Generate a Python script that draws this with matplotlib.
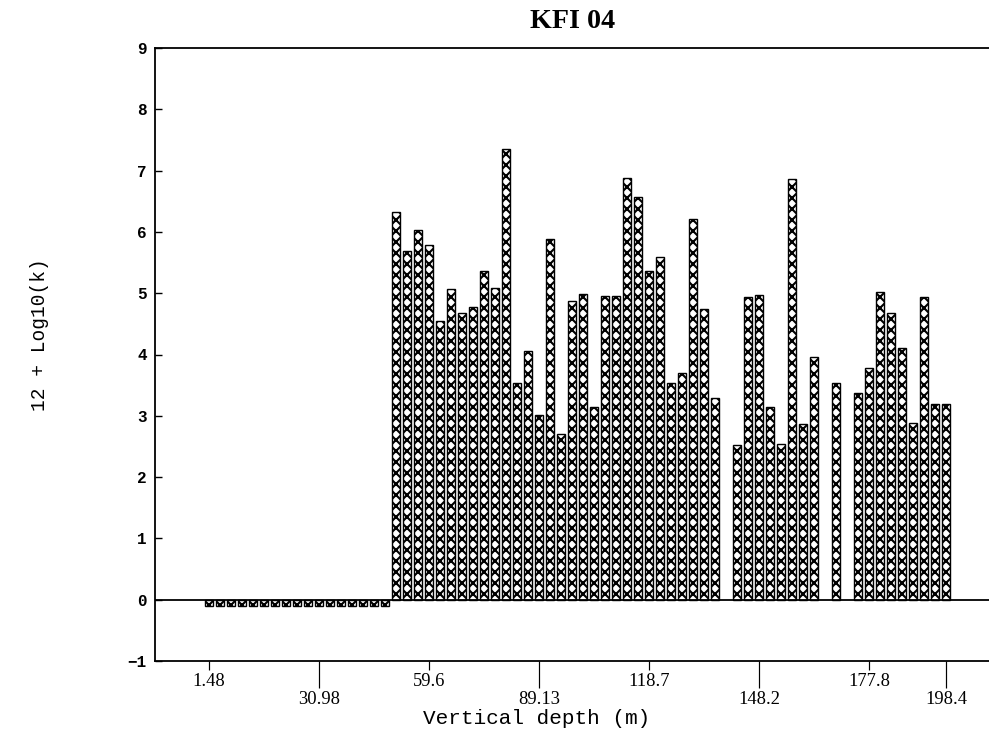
import numpy as np
import matplotlib
matplotlib.use("Agg")
import matplotlib.pyplot as plt

# Packer test intervals along the borehole (one slot per ~3 m section)
neg_slots = list(range(0, 17))
neg_values = [-0.1] * 17

pos_slots = list(range(17, 47)) + list(range(48, 56)) + [57] + list(range(59, 68))
pos_values = [6.33, 5.69, 6.03, 5.78, 4.54, 5.07, 4.68, 4.78, 5.36, 5.08,
              7.35, 3.54, 4.05, 3.01, 5.88, 2.70, 4.87, 4.98, 3.14, 4.95,
              4.95, 6.88, 6.57, 5.37, 5.59, 3.54, 3.70, 6.21, 4.75, 3.29,
              2.53, 4.93, 4.97, 3.14, 2.54, 6.86, 2.87, 3.96,
              3.54,
              3.37, 3.78, 5.02, 4.67, 4.11, 2.88, 4.93, 3.19, 3.19]

upper_tick_pos = [0, 20, 40, 60]
upper_tick_labels = ["1.48", "59.6", "118.7", "177.8"]
lower_tick_pos = [10, 30, 50, 67]
lower_tick_labels = ["30.98", "89.13", "148.2", "198.4"]

DPI = 66
W, H = 989, 737
plt.rcParams["hatch.linewidth"] = 2.1 * 72 / DPI
plt.rcParams["hatch.color"] = "black"


def pt(px):
    return px * 72.0 / DPI


fig = plt.figure(figsize=(W / DPI, H / DPI), dpi=DPI)
AX_L, AX_R = 155, 993
ax = fig.add_axes([AX_L / W, 1 - 661 / H, (AX_R - AX_L) / W, (661 - 48) / H])

# one slot = 11 px so the cross-hatch repeats identically in every bar
slot_px = 11.0
first_center_px = 209.0
x0 = -(first_center_px - AX_L) / slot_px
ax.set_xlim(x0, x0 + (AX_R - AX_L) / slot_px)
ax.set_ylim(-1, 9)

bar_kw = dict(width=0.74, color="white", edgecolor="black",
              linewidth=pt(1.4), hatch="xx", zorder=3)
ax.bar(neg_slots, neg_values, **bar_kw)
ax.bar(pos_slots, pos_values, **bar_kw)

ax.axhline(0, color="black", lw=pt(1.8), zorder=4)

for s in ax.spines.values():
    s.set_linewidth(pt(1.8))
ax.spines["right"].set_visible(False)

# y axis
ax.set_yticks(range(-1, 10))
ax.set_yticklabels([str(v) if v >= 0 else "\u22121" for v in range(-1, 10)],
                   family="Liberation Mono", fontweight="bold", fontsize=pt(16))
ax.tick_params(axis="y", direction="in", length=pt(7), width=pt(1.4), pad=pt(8))

# staggered x tick labels
ax.set_xticks(upper_tick_pos, upper_tick_labels)
ax.set_xticks(lower_tick_pos, lower_tick_labels, minor=True)
for lab in ax.get_xticklabels(which="both"):
    lab.set_family("Liberation Serif")
    lab.set_fontsize(pt(18.5))
ax.tick_params(axis="x", which="major", direction="out", length=pt(9),
               width=pt(1.2), pad=pt(3))
ax.tick_params(axis="x", which="minor", direction="out", length=pt(27),
               width=pt(1.2), pad=pt(3))

fig.text(573 / W, 1 - 21 / H, "KFI 04", ha="center", va="center",
         family="Liberation Serif", fontweight="bold", fontsize=pt(28))
fig.text(537 / W, 1 - 718 / H, "Vertical depth (m)", ha="center", va="center",
         family="Liberation Mono", fontsize=pt(21))
fig.text(40 / W, 1 - 335 / H, "12 + Log10(k)", ha="center", va="center",
         rotation=90, family="Liberation Mono", fontsize=pt(19.5))

fig.savefig("out.png", dpi=DPI)
